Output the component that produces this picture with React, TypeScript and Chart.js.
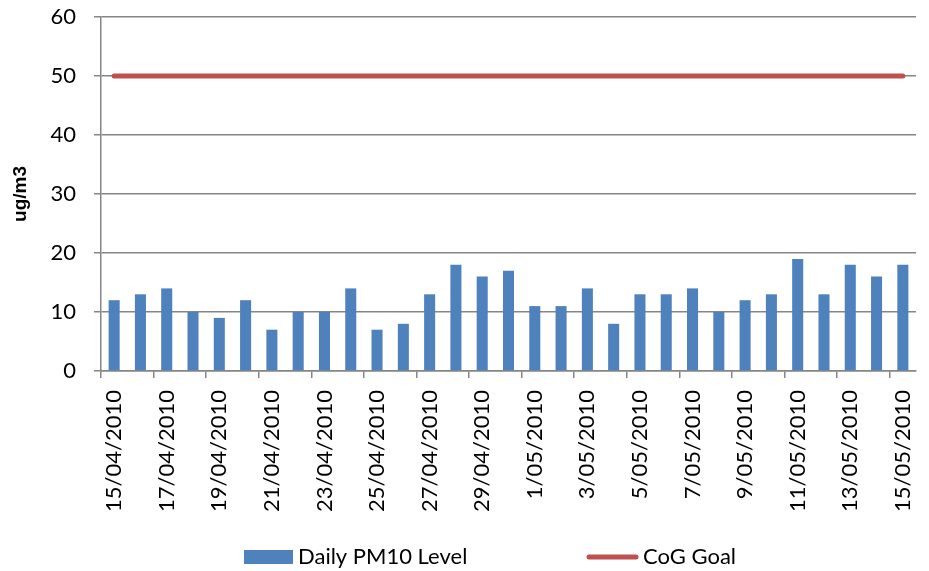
import React, { useEffect, useRef } from 'react';
import { Chart, registerables } from 'chart.js';

Chart.register(...registerables);

const dates = [
  '15/04/2010', '16/04/2010', '17/04/2010', '18/04/2010', '19/04/2010', '20/04/2010',
  '21/04/2010', '22/04/2010', '23/04/2010', '24/04/2010', '25/04/2010', '26/04/2010',
  '27/04/2010', '28/04/2010', '29/04/2010', '30/04/2010', '1/05/2010', '2/05/2010',
  '3/05/2010', '4/05/2010', '5/05/2010', '6/05/2010', '7/05/2010', '8/05/2010',
  '9/05/2010', '10/05/2010', '11/05/2010', '12/05/2010', '13/05/2010', '14/05/2010',
  '15/05/2010',
];

const pm10Level = [
  12, 13, 14, 10, 9, 12, 7, 10, 10, 14, 7, 8, 13, 18, 16, 17,
  11, 11, 14, 8, 13, 13, 14, 10, 12, 13, 19, 13, 18, 16, 18,
];

const cogGoal = [
  50, 50, 50, 50, 50, 50, 50, 50, 50, 50, 50, 50, 50, 50, 50, 50,
  50, 50, 50, 50, 50, 50, 50, 50, 50, 50, 50, 50, 50, 50, 50,
];

const yTicks = [0, 10, 20, 30, 40, 50, 60];

const BAR_COLOR = '#4F81BD';
const LINE_COLOR = '#C0504D';
const GRID_COLOR = '#868686';
const FONT = 'Lato';

const bottomLegend = {
  id: 'bottomLegend',
  afterDraw(chart: any) {
    const ctx = chart.ctx;
    const ds = chart.data.datasets;
    const cy = 557;
    ctx.save();
    ctx.font = `22px ${FONT}`;
    ctx.textBaseline = 'middle';
    ctx.textAlign = 'left';
    // bar item
    let x = 244;
    ctx.fillStyle = ds[0].backgroundColor;
    ctx.fillRect(x, cy - 7, 49, 14);
    ctx.fillStyle = '#000';
    ctx.fillText(ds[0].label, x + 54, cy);
    // line item
    x = 587;
    ctx.strokeStyle = ds[1].borderColor;
    ctx.lineWidth = 5;
    ctx.lineCap = 'round';
    ctx.beginPath();
    ctx.moveTo(x + 2, cy);
    ctx.lineTo(x + 49, cy);
    ctx.stroke();
    ctx.fillText(ds[1].label, x + 56, cy);
    ctx.restore();
  },
};

export default function App() {
  const ref = useRef<HTMLCanvasElement | null>(null);

  useEffect(() => {
    if (!ref.current) return;
    const chart = new Chart(ref.current, {
      type: 'bar',
      data: {
        labels: dates,
        datasets: [
          {
            type: 'bar',
            label: 'Daily PM10 Level',
            data: pm10Level,
            backgroundColor: BAR_COLOR,
            borderWidth: 0,
            categoryPercentage: 1,
            barPercentage: 0.42,
            order: 2,
          },
          {
            type: 'line',
            label: 'CoG Goal',
            data: cogGoal,
            borderColor: LINE_COLOR,
            backgroundColor: LINE_COLOR,
            borderWidth: 5,
            borderCapStyle: 'round',
            pointRadius: 0,
            fill: false,
            order: 1,
          } as any,
        ],
      },
      options: {
        animation: false,
        responsive: true,
        maintainAspectRatio: false,
        layout: { padding: { top: 17, right: 13, bottom: 60, left: 0 } },
        plugins: {
          legend: { display: false },
          tooltip: { enabled: false },
        },
        scales: {
          x: {
            offset: true,
            afterFit: (s: any) => {
              s.height = 140;
              s.paddingLeft = 0;
              s.paddingRight = 0;
            },
            grid: {
              offset: true,
              drawOnChartArea: false,
              tickLength: 7,
              color: (c: any) => (c.index % 2 === 0 ? GRID_COLOR : 'rgba(0,0,0,0)'),
              lineWidth: 1.5,
            },
            border: { display: true, color: GRID_COLOR, width: 1.5 },
            ticks: {
              autoSkip: false,
              maxRotation: 90,
              minRotation: 90,
              padding: 12,
              color: '#000',
              font: { family: FONT, size: 22 },
              callback: (_v: any, i: number) => (i % 2 === 0 ? dates[i] : ''),
            },
          },
          y: {
            min: yTicks[0],
            max: yTicks[yTicks.length - 1],
            afterFit: (s: any) => {
              s.width = 101;
              s.paddingTop = 0;
              s.paddingBottom = 0;
            },
            afterBuildTicks: (s: any) => { s.ticks = yTicks.map((v) => ({ value: v })); },
            grid: { color: GRID_COLOR, tickLength: 7, lineWidth: 1.5 },
            border: { display: true, color: GRID_COLOR, width: 1.5 },
            ticks: {
              padding: 18,
              color: '#000',
              font: { family: FONT, size: 22 },
            },
            title: {
              display: true,
              text: 'ug/m3',
              color: '#000',
              font: { family: 'Liberation Sans', size: 19, weight: 'bold' },
              padding: { top: 9, bottom: 0 },
            },
          },
        },
      },
      plugins: [bottomLegend],
    });
    return () => chart.destroy();
  }, []);

  return (
    <div style={{ position: 'fixed', left: 0, top: 0, width: 929, height: 571, background: '#fff' }}>
      <canvas ref={ref} />
    </div>
  );
}
